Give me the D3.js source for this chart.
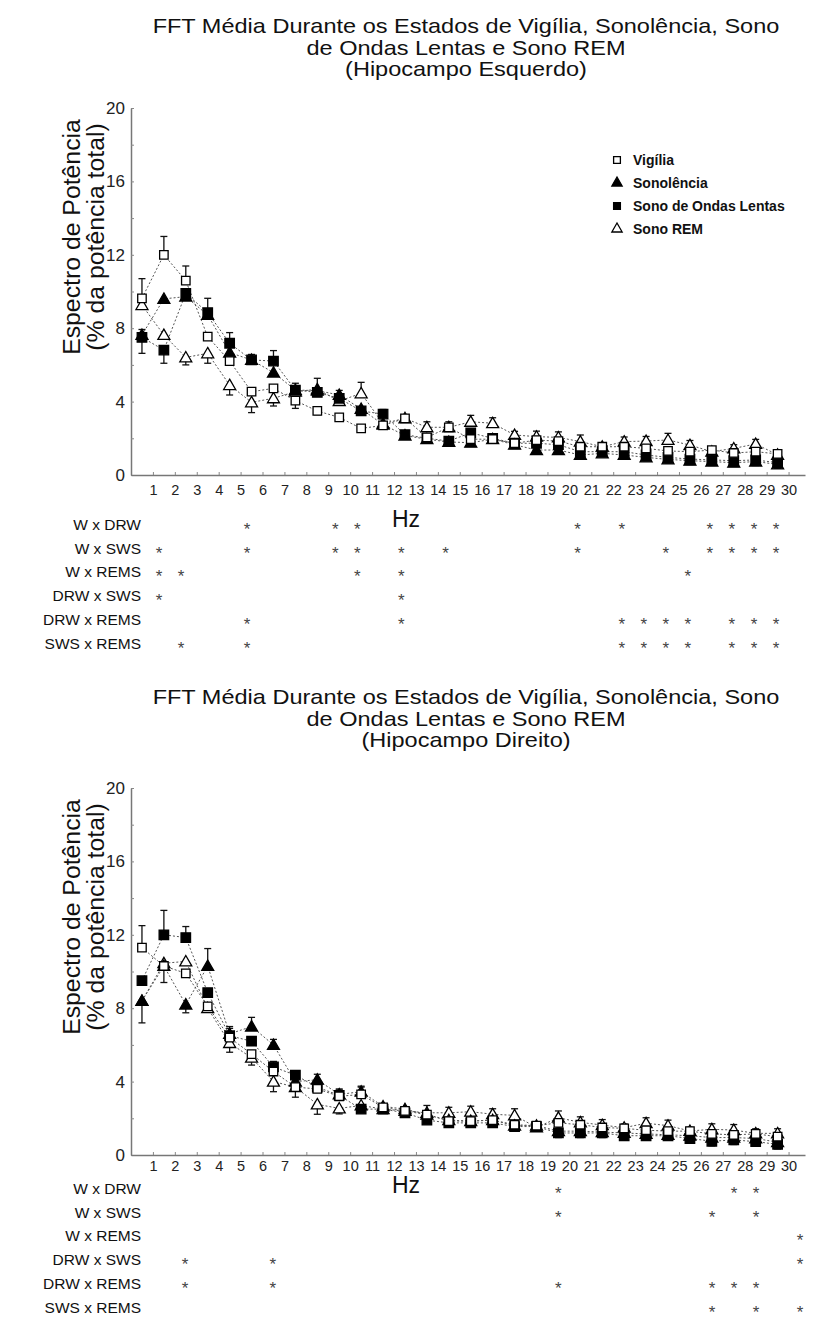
<!DOCTYPE html>
<html><head><meta charset="utf-8">
<script src="https://cdn.jsdelivr.net/npm/d3@7"></script>
<style>body{margin:0;background:#fff}</style>
</head><body>
<svg id="c" width="817" height="1336"></svg>
<script>
// ---------- DATA ----------
const hz = d3.range(1, 31);
const yTickValues = [0, 4, 8, 12, 16, 20];
const seriesNames = ["Vigília", "Sonolência", "Sono de Ondas Lentas", "Sono REM"];
const comparisons = ["W x DRW", "W x SWS", "W x REMS", "DRW x SWS", "DRW x REMS", "SWS x REMS"];
const titleTop = ["FFT Média Durante os Estados de Vigília, Sonolência, Sono", "de Ondas Lentas e Sono REM", "(Hipocampo Esquerdo)"];
const titleBottom = ["FFT Média Durante os Estados de Vigília, Sonolência, Sono", "de Ondas Lentas e Sono REM", "(Hipocampo Direito)"];

// Left hippocampus (top chart)
const leftW    = [9.63,12.0,10.59,7.54,6.21,4.54,4.72,4.05,3.49,3.14,2.54,2.7,3.09,2.05,2.6,1.95,1.95,1.73,1.9,1.85,1.54,1.54,1.54,1.45,1.31,1.27,1.36,1.2,1.27,1.15];
const leftDRW  = [7.63,9.6,9.72,8.72,6.67,6.27,5.58,4.63,4.6,4.36,3.6,2.75,2.15,1.95,1.8,1.76,1.95,1.65,1.36,1.36,1.09,1.18,1.09,0.96,0.85,0.78,0.73,0.67,0.73,0.58];
const leftSWS  = [7.5,6.81,9.9,8.85,7.18,6.27,6.21,4.63,4.5,4.18,3.49,3.32,2.2,2.0,1.85,2.3,2.0,1.73,1.73,1.65,1.27,1.27,1.27,1.09,0.96,0.87,0.82,0.78,0.82,0.67];
const leftREM  = [9.26,7.63,6.41,6.63,4.9,3.96,4.18,4.54,4.67,4.03,4.45,2.8,3.09,2.6,2.6,2.9,2.82,2.18,2.09,2.05,1.82,1.54,1.82,1.85,1.91,1.63,1.27,1.45,1.69,1.1];
// signed error bars (+ up, - down, 0 none)
const leftWErr   = [1.07,1.0,0.8,0,0,0,0,-0.42,-0.2,0,-0.2,0,0.2,0,0,0,0,0,0,0,0,0,0,0,0,0,0,0,0,0];
const leftDRWErr = [0.3,0,0,0,0,0,0,0,0,0.25,0,0,0,0,0,0,0,0,0,0,0,0,0,0,0,0,0,0,0,0];
const leftSWSErr = [-0.87,-0.72,0,0.78,0.58,0.3,0.57,0.37,0,0,0.2,0.25,0,0,0,0,0,0,-0.25,-0.25,-0.3,-0.25,-0.3,-0.3,-0.3,-0.3,-0.3,-0.3,-0.3,-0.3];
const leftREMErr = [0,0,-0.41,-0.54,-0.54,-0.56,-0.42,0,0.6,0,0.6,0,0.2,0.3,0.3,0.35,0.3,0.2,0.3,0.3,0.36,0.2,0.25,0.25,0.36,0.25,0.2,0.2,0.25,0.2];

// Right hippocampus (bottom chart)
const rightW   = [11.3,10.3,9.9,8.1,6.4,5.5,4.55,3.7,3.6,3.2,3.3,2.6,2.4,2.2,1.85,1.85,1.9,1.65,1.6,1.75,1.65,1.5,1.45,1.35,1.3,1.3,1.15,1.1,1.15,1.0];
const rightDRW = [8.4,10.3,8.2,10.3,6.6,7.0,6.0,4.0,4.1,3.3,3.45,2.65,2.5,2.2,1.9,1.85,1.9,1.6,1.6,1.3,1.3,1.25,1.2,1.15,1.1,1.05,0.95,0.95,0.9,0.7];
const rightSWS = [9.5,12.0,11.85,8.85,6.5,6.2,4.8,4.35,3.7,3.25,2.5,2.5,2.3,1.9,1.75,1.75,1.75,1.55,1.55,1.2,1.2,1.2,1.05,1.05,1.05,0.9,0.75,0.82,0.73,0.58];
const rightREM = [8.4,10.45,10.55,8.0,6.1,5.3,4.0,3.7,2.76,2.54,2.7,2.5,2.4,2.3,2.3,2.36,2.22,2.16,1.5,2.03,1.78,1.63,1.49,1.73,1.6,1.31,1.4,1.36,1.18,1.18];
const rightWErr   = [1.2,0,0,0,-0.4,-0.3,0,0,0,0,0.4,0,0,0,0,0,0,0,0,0,0,0,0,0,0,0,0,0,0,0];
const rightDRWErr = [0,-0.9,-0.45,0.95,0.4,0.5,0.3,0.3,0.3,0.3,0.3,0,0,0,0,0,0,0,0,0,0,0,0,0,0,0,0,0,0,0];
const rightSWSErr = [0,1.33,0.6,0,0.4,0,0.3,0.2,0,0.3,0,0.2,0,0,0,0,0,0,0,-0.25,-0.25,-0.25,-0.25,-0.25,-0.25,-0.25,-0.25,-0.25,-0.25,-0.25];
const rightREMErr = [-1.2,0,0,0,-0.5,-0.4,-0.55,-0.55,-0.54,-0.3,0,0,0,0.4,0.3,0.3,0.3,0.36,0,0.37,0.3,0.3,0.2,0.3,0.3,0.2,0.3,0.3,0.25,0.25];

// Significance (Hz columns with *)
const leftSig = [
  [5,9,10,20,22,26,27,28,29],
  [1,5,9,10,12,14,20,24,26,27,28,29],
  [1,2,10,12,25],
  [1,12],
  [5,12,22,23,24,25,27,28,29],
  [2,5,22,23,24,25,27,28,29]
];
const rightSig = [
  [19,27,28],
  [19,26,28],
  [30],
  [2,6,30],
  [2,6,19,26,27,28],
  [26,28,30]
];

// ---------- DRAW ----------
const svg = d3.select("#c");
const FONT = "'Liberation Sans', Arial, sans-serif";

function drawPanel(cfg) {
  const g = svg.append("g");
  const x = d3.scaleLinear().domain([0, 30.75]).range([131, 805]);
  const y = d3.scaleLinear().domain([0, 20]).range([cfg.y0, cfg.y0 - 367]);
  const px = k => x(k - 0.5);

  // title (font slightly widened to match the reference's wide title)
  cfg.title.forEach((t, i) => {
    const tx = g.append("text").attr("x", 466).attr("y", cfg.titleY + i * 21.5)
      .attr("text-anchor", "middle").attr("font-family", FONT).attr("font-size", 21)
      .attr("fill", "#111").text(t);
    const w = tx.node().getComputedTextLength();
    tx.attr("textLength", w * 1.12).attr("lengthAdjust", "spacingAndGlyphs");
  });

  // axes
  const ya = g.append("g").attr("transform", `translate(${x(0)},0)`)
    .call(d3.axisLeft(y).tickValues(yTickValues).tickSize(0).tickPadding(6));
  ya.select(".domain").attr("stroke", "#777").attr("stroke-width", 1.5);
  ya.selectAll("text").attr("font-family", FONT).attr("font-size", 17).attr("fill", "#222");
  g.append("g").attr("transform", `translate(${x(0)},0)`)
    .call(d3.axisRight(y).ticks(10).tickSize(3).tickFormat(""))
    .call(s => { s.select(".domain").remove(); s.selectAll("line").attr("stroke", "#888"); });

  const xa = g.append("g").attr("transform", `translate(0,${cfg.y0})`)
    .call(d3.axisBottom(x).tickValues(hz).tickSize(0).tickPadding(cfg.xPad).tickSizeOuter(0));
  xa.select(".domain").attr("stroke", "#777").attr("stroke-width", 1.5);
  xa.selectAll("text").attr("font-family", FONT).attr("font-size", 14.5).attr("fill", "#222");
  g.append("g").attr("transform", `translate(0,${cfg.y0})`)
    .call(d3.axisTop(x).tickValues(hz).tickSize(3).tickFormat(""))
    .call(s => { s.select(".domain").remove(); s.selectAll("line").attr("stroke", "#888"); });

  // y label
  const yl = g.append("text").attr("transform", `translate(80,${cfg.y0 - 238}) rotate(-90)`)
    .attr("text-anchor", "middle").attr("font-family", FONT).attr("font-size", 24.8).attr("fill", "#111");
  yl.append("tspan").attr("x", 0).attr("dy", 0).text("Espectro de Potência");
  yl.append("tspan").attr("x", 0).attr("dy", 23.5).text("(% da potência total)");

  // Hz label
  g.append("text").attr("x", 406).attr("y", cfg.hzY).attr("text-anchor", "middle")
    .attr("font-family", FONT).attr("font-size", 23).attr("fill", "#111").text("Hz");

  // series
  const types = [
    {sym: d3.symbolSquare, size: 72, fill: "#fff"},
    {sym: d3.symbolTriangle, size: 62, fill: "#000"},
    {sym: d3.symbolSquare, size: 90, fill: "#000"},
    {sym: d3.symbolTriangle, size: 62, fill: "#fff"}
  ];
  const line = d3.line().x((d, i) => px(hz[i])).y(d => y(d));
  const order = [3, 1, 2, 0];
  order.forEach(si => {
    g.append("path").datum(cfg.series[si]).attr("d", line).attr("fill", "none")
      .attr("stroke", "#555").attr("stroke-width", 1).attr("stroke-dasharray", "2,2");
  });
  order.forEach(si => {
    const vals = cfg.series[si], errs = cfg.errs[si];
    const eb = g.append("g").attr("stroke", "#111").attr("stroke-width", 1.3);
    vals.forEach((v, i) => {
      const e = errs[i];
      if (!e) return;
      const xx = px(hz[i]);
      eb.append("line").attr("x1", xx).attr("x2", xx).attr("y1", y(v)).attr("y2", y(v + e));
      eb.append("line").attr("x1", xx - 3.5).attr("x2", xx + 3.5).attr("y1", y(v + e)).attr("y2", y(v + e));
    });
  });
  order.forEach(si => {
    const t = types[si];
    g.append("g").selectAll("path").data(cfg.series[si]).join("path")
      .attr("transform", (d, i) => `translate(${px(hz[i])},${y(d) + (t.sym === d3.symbolTriangle ? 1 : 0)})`)
      .attr("d", d3.symbol(t.sym, t.size))
      .attr("fill", t.fill).attr("stroke", "#000").attr("stroke-width", 1.3);
  });

  // legend
  if (cfg.legend) {
    seriesNames.forEach((n, i) => {
      const t = types[i];
      const ly = 160 + i * 23;
      g.append("path").attr("transform", `translate(617,${ly})`)
        .attr("d", d3.symbol(t.sym, 46)).attr("fill", t.fill)
        .attr("stroke", "#000").attr("stroke-width", 1.3);
      g.append("text").attr("x", 633).attr("y", ly + 5).attr("font-family", FONT)
        .attr("font-weight", "bold").attr("font-size", 14).attr("fill", "#111").text(n);
    });
  }

  // significance table
  const col = d3.scaleLinear().domain([1, 29]).range(cfg.colRange);
  comparisons.forEach((c, r) => {
    const ry = cfg.tableY + r * 23.7;
    g.append("text").attr("x", 141).attr("y", ry + 5).attr("text-anchor", "end")
      .attr("font-family", FONT).attr("font-size", 15.5).attr("fill", "#111").text(c);
    g.append("g").selectAll("text").data(cfg.sig[r]).join("text")
      .attr("x", d => col(d)).attr("y", ry + 10).attr("text-anchor", "middle")
      .attr("font-family", FONT).attr("font-size", 17).attr("fill", "#444").text("*");
  });
}

drawPanel({
  y0: 475, titleY: 33, title: titleTop, hzY: 527, xPad: 10, legend: true,
  series: [leftW, leftDRW, leftSWS, leftREM],
  errs: [leftWErr, leftDRWErr, leftSWSErr, leftREMErr],
  tableY: 525, sig: leftSig, colRange: [159, 776]
});
drawPanel({
  y0: 1155, titleY: 704, title: titleBottom, hzY: 1193, xPad: 6, legend: false,
  series: [rightW, rightDRW, rightSWS, rightREM],
  errs: [rightWErr, rightDRWErr, rightSWSErr, rightREMErr],
  tableY: 1189, sig: rightSig, colRange: [163, 778]
});
</script>
</body></html>
